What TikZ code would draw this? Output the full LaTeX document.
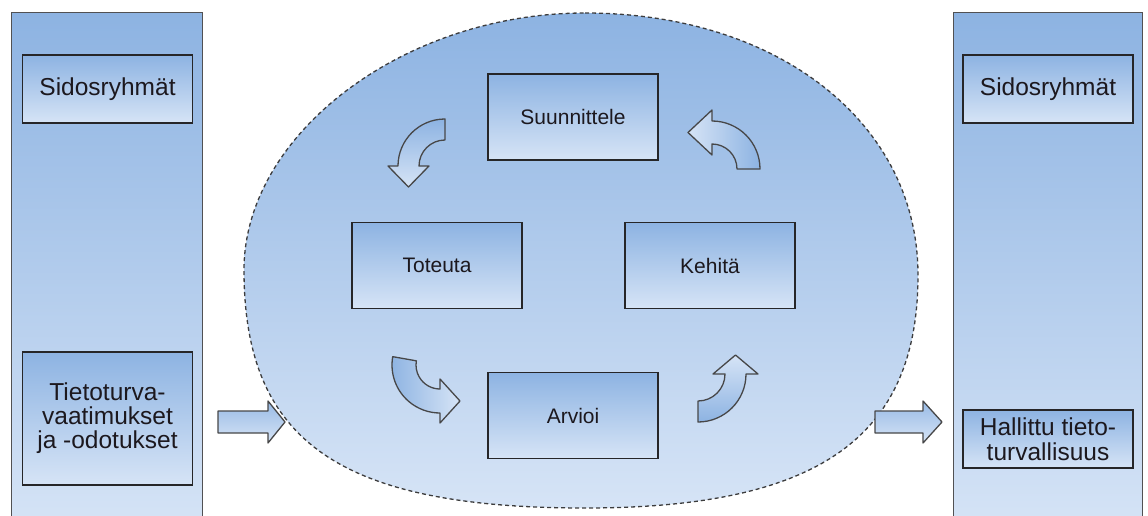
\documentclass[tikz,border=0pt]{standalone}
\usepackage{fontspec}
\setmainfont{Liberation Sans}
\usetikzlibrary{calc}

\definecolor{bluedark}{RGB}{141,179,226}
\definecolor{bluelight}{RGB}{214,228,246}
\definecolor{edge}{RGB}{38,38,40}
\definecolor{ink}{RGB}{28,24,30}

\tikzset{
  panel/.style={draw=edge!80, line width=1pt, top color=bluedark, bottom color=bluelight,
    anchor=north west, inner sep=0pt},
  sidebox/.style={draw=edge, line width=1.6pt, top color=bluedark, bottom color=bluelight,
    text=ink, font=\fontsize{24.5}{24}\selectfont, align=center, inner sep=0pt,
    minimum width=170pt},
  stepbox/.style={draw=edge, line width=1.6pt, top color=bluedark, bottom color=bluelight,
    text=ink, font=\fontsize{21}{24}\selectfont, minimum width=170pt, minimum height=86pt,
    inner sep=0pt},
  cyclearea/.style={draw=edge!90, dash pattern=on 4pt off 3pt, line width=1.3pt,
    top color=bluedark, bottom color=bluelight},
  blockarrow/.style={draw=edge!85, line width=1.3pt, line join=round,
    top color=bluedark!85!bluelight, bottom color=bluelight},
  bent/.style={draw=edge!85, line width=1.3pt, line join=round},
}

% curved arrow: #1 centre, #2 outer radius, #3 inner radius, #4 tail angle,
% #5 head angle, #6 head flare, #7 head length, #8 shading
\newcommand{\bentarrow}[8]{%
  \path[bent,#8] (#1) ++(#4:#2) arc[start angle=#4, end angle=#5, radius=#2]
    -- ($(#1)+(#5:#2+#6)$)
    -- ($(#1)+(#5:{(#2+#3)/2})+({#5+90*sign(#5-#4)}:#7)$)
    -- ($(#1)+(#5:#3-#6)$)
    -- ($(#1)+(#5:#3)$) arc[start angle=#5, end angle=#4, radius=#3]
    -- cycle;}

\begin{document}
\begin{tikzpicture}[x=1pt, y=-1pt]
\useasboundingbox (0,0) rectangle (1148,516);
\clip (0,0) rectangle (1148,516);

% side columns
\node[panel, minimum width=191pt, minimum height=520pt] (inpanel) at (11,12) {};
\node[panel, minimum width=189pt, minimum height=520pt] (outpanel) at (953,12) {};

\node[sidebox, minimum height=68pt] (stakein) at (107.5,89) {Sidosryhmät};
\node[sidebox, minimum height=133pt] (reqs) at (107.5,418.5)
  {Tietoturva-\\vaatimukset\\ja -odotukset};
\node[sidebox, minimum height=68pt] (stakeout) at (1048,89) {Sidosryhmät};
\node[sidebox, minimum height=58pt, font=\fontsize{24.5}{25}\selectfont] (result) at (1048,439)
  {Hallittu tieto-\\turvallisuus};

% management cycle area: an oval, slightly fuller in its lower half
\coordinate (ovtop) at (585,13);
\coordinate (ovright) at (918,275);
\coordinate (ovbottom) at (585,508);
\coordinate (ovleft) at (244,270);
\path[cyclearea] (ovtop)
  .. controls (778,13) and (918,123) .. (ovright)
  .. controls (918,438) and (818,508) .. (ovbottom)
  .. controls (339,508) and (244,441) .. (ovleft)
  .. controls (244,134) and (404,13) .. (ovtop) -- cycle;

\node[stepbox] (plan) at (573,117) {Suunnittele};
\node[stepbox] (do) at (437,265.5) {Toteuta};
\node[stepbox] (act) at (710,265.5) {Kehitä};
\node[stepbox] (check) at (573,415.5) {Arvioi};

% cycle arrows
\bentarrow{445,166}{47}{26}{270}{180}{10}{21}{top color=bluedark, bottom color=bluelight}
\bentarrow{440,365}{48}{24}{190}{90}{10}{20}{left color=bluedark, right color=bluelight}
\bentarrow{698,374}{48}{27}{90}{0}{12}{19}{bottom color=bluedark, top color=bluelight}
\bentarrow{712,169}{48}{25}{360}{270}{11}{24}{right color=bluedark, left color=bluelight}

% input and output arrows
\path[blockarrow] (218,411) -- (268,411) -- (268,401) -- (285,422) -- (268,443)
  -- (268,433) -- (218,433) -- cycle;
\path[blockarrow] (875,411) -- (923,411) -- (923,401) -- (942,422) -- (923,443)
  -- (923,433) -- (875,433) -- cycle;
\end{tikzpicture}
\end{document}
